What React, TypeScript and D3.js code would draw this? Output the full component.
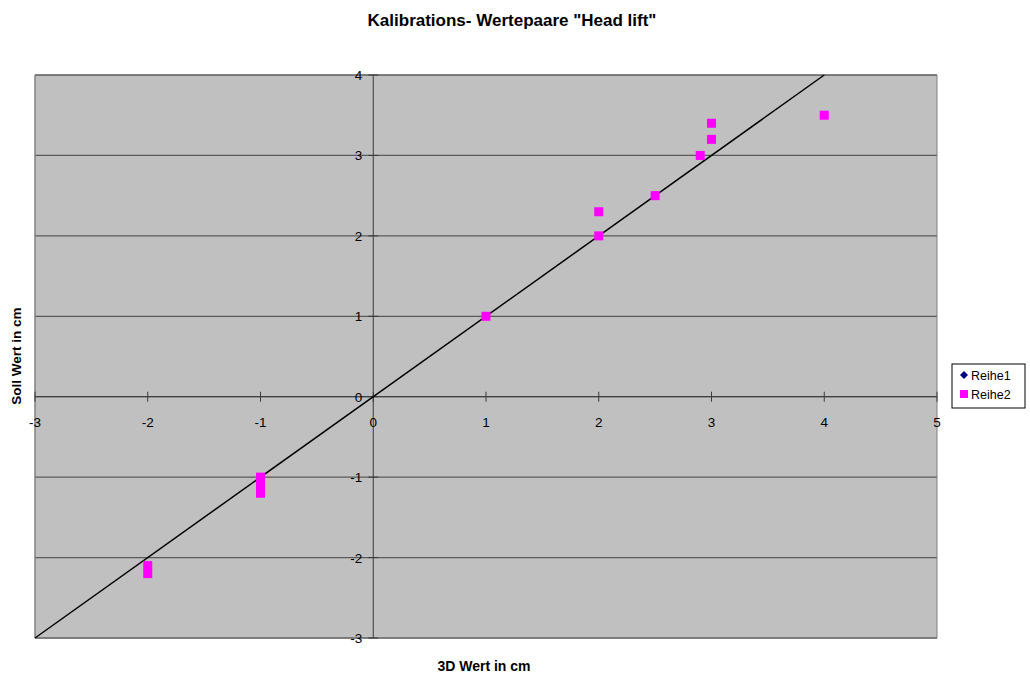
import React from "react";
import * as d3 from "d3";

// Calibration pairs: measured 3D value (x) vs. target value (y)
const reihe2X = [-2, -2, -1, -1, -1, 1, 2, 2, 2.5, 2.9, 3, 3, 4];
const reihe2Y = [-2.1, -2.2, -1, -1.1, -1.2, 1, 2, 2.3, 2.5, 3, 3.2, 3.4, 3.5];
// Reference line (ideal y = x)
const reihe1X = [-3, 4];
const reihe1Y = [-3, 4];

const xTicks = [-3, -2, -1, 0, 1, 2, 3, 4, 5];
const yTicks = [-3, -2, -1, 0, 1, 2, 3, 4];
const seriesNames = ["Reihe1", "Reihe2"];

const W = 1030;
const H = 678;
const plot = { left: 35, right: 937, top: 75, bottom: 638 };
const FONT = "Liberation Sans, Arial, sans-serif";

export default function App() {
  const x = d3.scaleLinear().domain([-3, 5]).range([plot.left, plot.right]);
  const y = d3.scaleLinear().domain([-3, 4]).range([plot.bottom, plot.top]);
  const line = d3
    .line<number>()
    .x((_, i) => x(reihe1X[i]))
    .y((d) => y(d));
  const x0 = x(0);
  const y0 = y(0);
  const ms = 9;

  return (
    <svg
      width={W}
      height={H}
      style={{ position: "absolute", left: 0, top: 0, background: "#fff" }}
      fontFamily={FONT}
    >
      <rect
        x={plot.left}
        y={plot.top}
        width={plot.right - plot.left}
        height={plot.bottom - plot.top}
        fill="#c0c0c0"
      />
      {yTicks.map((t) => (
        <line
          key={"g" + t}
          x1={plot.left}
          x2={plot.right}
          y1={y(t)}
          y2={y(t)}
          stroke="#5a5a5a"
          strokeWidth={1.3}
        />
      ))}
      <line x1={plot.left} x2={plot.left} y1={plot.top} y2={plot.bottom} stroke="#808080" strokeWidth={1.5} />
      <line x1={plot.right} x2={plot.right} y1={plot.top} y2={plot.bottom} stroke="#808080" strokeWidth={1} />
      <line x1={plot.left} x2={plot.right} y1={plot.bottom} y2={plot.bottom} stroke="#808080" strokeWidth={1} />
      {/* axes through origin */}
      <line x1={x0} x2={x0} y1={plot.top} y2={plot.bottom} stroke="#3a3a3a" strokeWidth={1} />
      <line x1={plot.left} x2={plot.right} y1={y0} y2={y0} stroke="#3a3a3a" strokeWidth={1} />
      {yTicks.map((t) => (
        <g key={"yt" + t}>
          <line x1={x0 - 5} x2={x0 + 5} y1={y(t)} y2={y(t)} stroke="#3a3a3a" />
          <text x={x0 - 11} y={y(t) + 5} textAnchor="end" fontSize={13.5}>
            {t}
          </text>
        </g>
      ))}
      {xTicks.map((t) => (
        <g key={"xt" + t}>
          <line x1={x(t)} x2={x(t)} y1={y0 - 5} y2={y0 + 5} stroke="#3a3a3a" />
          <text x={x(t)} y={y0 + 30} textAnchor="middle" fontSize={13.5}>
            {t}
          </text>
        </g>
      ))}
      <path d={line(reihe1Y) || ""} fill="none" stroke="#000" strokeWidth={1.5} />
      {reihe2X.map((v, i) => (
        <rect
          key={"p" + i}
          x={x(v) - ms / 2}
          y={y(reihe2Y[i]) - ms / 2}
          width={ms}
          height={ms}
          fill="#ff00ff"
        />
      ))}
      <text x={512} y={26} textAnchor="middle" fontSize={17} fontWeight="bold">
        Kalibrations- Wertepaare "Head lift"
      </text>
      <text x={484} y={671} textAnchor="middle" fontSize={14} fontWeight="bold">
        3D Wert in cm
      </text>
      <text
        transform={`translate(21,356) rotate(-90)`}
        textAnchor="middle"
        fontSize={13.5}
        fontWeight="bold"
      >
        Soll Wert in cm
      </text>
      <g transform="translate(952,364)">
        <rect x={0} y={0} width={73} height={44} fill="#fff" stroke="#000" strokeWidth={1} />
        {seriesNames.map((n, i) => (
          <g key={n} transform={`translate(0,${11 + i * 19})`}>
            {i === 0 ? (
              <path d="M 12 -4 L 16 0 L 12 4 L 8 0 Z" fill="#000080" />
            ) : (
              <rect x={8} y={-4} width={8} height={8} fill="#ff00ff" />
            )}
            <text x={19} y={5} fontSize={12.5}>
              {n}
            </text>
          </g>
        ))}
      </g>
    </svg>
  );
}
